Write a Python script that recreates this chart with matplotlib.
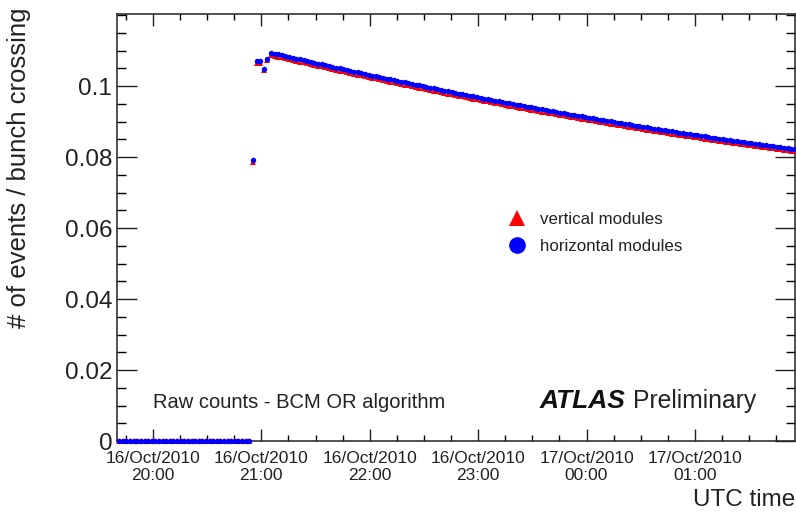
# -*- coding: utf-8 -*-
"""BCM raw interaction rate per bunch crossing, 16-17 Oct 2010."""

import numpy as np
import pandas as pd
import matplotlib
matplotlib.use("Agg")
from matplotlib import pyplot as plt
import matplotlib.dates as mdates
from matplotlib.lines import Line2D

plt.rcParams['font.family'] = ['Liberation Sans', 'DejaVu Sans']

# one reading every 2 minutes starting at 19:41:20 UTC
start_time = "2010-10-16 19:41:20"
step = "2min"

# before stable beams: nothing seen
zero_counts = [0.0] * 37

# beams coming in, 20:55 - 21:03
ramp_vertical = [0.0786, 0.1066, 0.1065, 0.1044, 0.1072]
ramp_horizontal = [0.0791, 0.1071, 0.1070, 0.1049, 0.1077]

# luminosity decay, 21:05 - 01:55
decay_horizontal = [
    0.10940, 0.10916, 0.10892, 0.10868, 0.10844, 0.10821, 0.10797, 0.10774, 0.10750, 0.10727,
    0.10703, 0.10680, 0.10657, 0.10634, 0.10611, 0.10588, 0.10565, 0.10542, 0.10519, 0.10497,
    0.10474, 0.10451, 0.10429, 0.10406, 0.10384, 0.10362, 0.10340, 0.10318, 0.10296, 0.10274,
    0.10252, 0.10230, 0.10208, 0.10187, 0.10165, 0.10143, 0.10122, 0.10101, 0.10079, 0.10058,
    0.10037, 0.10016, 0.09995, 0.09974, 0.09953, 0.09932, 0.09912, 0.09891, 0.09870, 0.09850,
    0.09829, 0.09809, 0.09789, 0.09769, 0.09748, 0.09728, 0.09708, 0.09688, 0.09669, 0.09649,
    0.09629, 0.09609, 0.09590, 0.09570, 0.09551, 0.09532, 0.09512, 0.09493, 0.09474, 0.09455,
    0.09436, 0.09417, 0.09398, 0.09380, 0.09361, 0.09342, 0.09324, 0.09305, 0.09287, 0.09269,
    0.09250, 0.09232, 0.09214, 0.09196, 0.09178, 0.09160, 0.09143, 0.09125, 0.09107, 0.09090,
    0.09072, 0.09055, 0.09037, 0.09020, 0.09003, 0.08986, 0.08969, 0.08952, 0.08935, 0.08918,
    0.08901, 0.08884, 0.08868, 0.08851, 0.08835, 0.08818, 0.08802, 0.08786, 0.08769, 0.08753,
    0.08737, 0.08721, 0.08705, 0.08689, 0.08674, 0.08658, 0.08642, 0.08627, 0.08611, 0.08596,
    0.08581, 0.08565, 0.08550, 0.08535, 0.08520, 0.08505, 0.08490, 0.08475, 0.08461, 0.08446,
    0.08431, 0.08417, 0.08402, 0.08388, 0.08374, 0.08360, 0.08345, 0.08331, 0.08317, 0.08303,
    0.08290, 0.08276, 0.08262, 0.08248, 0.08235, 0.08221,
]
decay_vertical = [
    0.10880, 0.10856, 0.10832, 0.10808, 0.10784, 0.10761, 0.10737, 0.10714, 0.10690, 0.10667,
    0.10643, 0.10620, 0.10597, 0.10574, 0.10551, 0.10528, 0.10505, 0.10482, 0.10459, 0.10437,
    0.10414, 0.10391, 0.10369, 0.10346, 0.10324, 0.10302, 0.10280, 0.10258, 0.10236, 0.10214,
    0.10192, 0.10170, 0.10148, 0.10127, 0.10105, 0.10083, 0.10062, 0.10041, 0.10019, 0.09998,
    0.09977, 0.09956, 0.09935, 0.09914, 0.09893, 0.09872, 0.09852, 0.09831, 0.09810, 0.09790,
    0.09769, 0.09749, 0.09729, 0.09709, 0.09688, 0.09668, 0.09648, 0.09628, 0.09609, 0.09589,
    0.09569, 0.09549, 0.09530, 0.09510, 0.09491, 0.09472, 0.09452, 0.09433, 0.09414, 0.09395,
    0.09376, 0.09357, 0.09338, 0.09320, 0.09301, 0.09282, 0.09264, 0.09245, 0.09227, 0.09209,
    0.09190, 0.09172, 0.09154, 0.09136, 0.09118, 0.09100, 0.09083, 0.09065, 0.09047, 0.09030,
    0.09012, 0.08995, 0.08977, 0.08960, 0.08943, 0.08926, 0.08909, 0.08892, 0.08875, 0.08858,
    0.08841, 0.08824, 0.08808, 0.08791, 0.08775, 0.08758, 0.08742, 0.08726, 0.08709, 0.08693,
    0.08677, 0.08661, 0.08645, 0.08629, 0.08614, 0.08598, 0.08582, 0.08567, 0.08551, 0.08536,
    0.08521, 0.08505, 0.08490, 0.08475, 0.08460, 0.08445, 0.08430, 0.08415, 0.08401, 0.08386,
    0.08371, 0.08357, 0.08342, 0.08328, 0.08314, 0.08300, 0.08285, 0.08271, 0.08257, 0.08243,
    0.08230, 0.08216, 0.08202, 0.08188, 0.08175, 0.08161,
]

vertical = zero_counts + ramp_vertical + decay_vertical
horizontal = zero_counts + ramp_horizontal + decay_horizontal
times = pd.date_range(start_time, periods=len(horizontal), freq=step).to_pydatetime()

W, H = 796, 514
fig = plt.figure(figsize=(W / 100, H / 100), dpi=100)
ax = fig.add_axes([117 / W, 1 - 441 / H, (795 - 117) / W, (441 - 14) / H])

ax.plot(times, vertical, ls="none", marker="^", ms=4.0, color="#ff0000",
        markeredgewidth=0, clip_on=False, zorder=3)
ax.plot(times, horizontal, ls="none", marker="o", ms=3.9, color="#0000ff",
        markeredgewidth=0, clip_on=False, zorder=4)

ax.set_xlim(pd.Timestamp("2010-10-16 19:40:05"), pd.Timestamp("2010-10-17 01:55:25"))
ax.set_ylim(0, 0.1203)

# ROOT style axes: ticks inside on all four sides
ax.xaxis.set_major_locator(mdates.HourLocator())
ax.xaxis.set_minor_locator(mdates.MinuteLocator(byminute=[0, 15, 30, 45]))
ax.xaxis.set_major_formatter(mdates.DateFormatter("%d/%b/%Y\n%H:%M"))
ax.set_yticks([0, 0.02, 0.04, 0.06, 0.08, 0.1])
ax.set_yticklabels(["0", "0.02", "0.04", "0.06", "0.08", "0.1"])
ax.set_yticks(np.arange(0, 0.1201, 0.005), minor=True)

ax.tick_params(axis="x", which="major", direction="in", length=8.6, width=1.0,
               top=True, labelsize=12.5, pad=7.5, colors="#222222")
ax.tick_params(axis="x", which="minor", direction="in", length=4.3, width=1.0,
               top=True)
ax.tick_params(axis="y", which="major", direction="in", length=14.4, width=1.0,
               right=True, labelsize=17.5, pad=3.5, colors="#222222")
ax.tick_params(axis="y", which="minor", direction="in", length=6.5, width=1.0,
               right=True)
for lab in ax.get_xticklabels():
    lab.set_horizontalalignment("center")
    lab.set_linespacing(1.12)
for sp in ax.spines.values():
    sp.set_linewidth(1.1)
    sp.set_color("#222222")

fig.text(19 / W, 1 - 168 / H, "# of events / bunch crossing", rotation=90,
         ha="center", va="center", fontsize=18.5, color="#222222")
fig.text(795 / W, 1 - 500 / H, "UTC time", ha="right", va="center",
         fontsize=17.5, color="#222222")

fig.text(153 / W, 1 - 403 / H, "Raw counts - BCM OR algorithm", ha="left",
         va="center", fontsize=14.5, color="#222222")
fig.text(540 / W, 1 - 401 / H, "ATLAS", ha="left", va="center", fontsize=19,
         fontweight="bold", fontstyle="italic", color="#111111")
fig.text(633 / W, 1 - 401 / H, "Preliminary", ha="left", va="center",
         fontsize=17.8, color="#222222")

handles = [
    Line2D([], [], ls="none", marker="^", ms=12, color="#ff0000", markeredgewidth=0),
    Line2D([], [], ls="none", marker="o", ms=12, color="#0000ff", markeredgewidth=0),
]
ax.legend(handles, ["vertical modules", "horizontal modules"], loc="center left",
          bbox_to_anchor=(509 / W, 1 - 233 / H), bbox_transform=fig.transFigure,
          frameon=False, fontsize=12.2, handlelength=1.0, handletextpad=0.8,
          labelspacing=0.72, borderpad=0, borderaxespad=0, labelcolor="#222222")

fig.savefig("out.png", dpi=100)
